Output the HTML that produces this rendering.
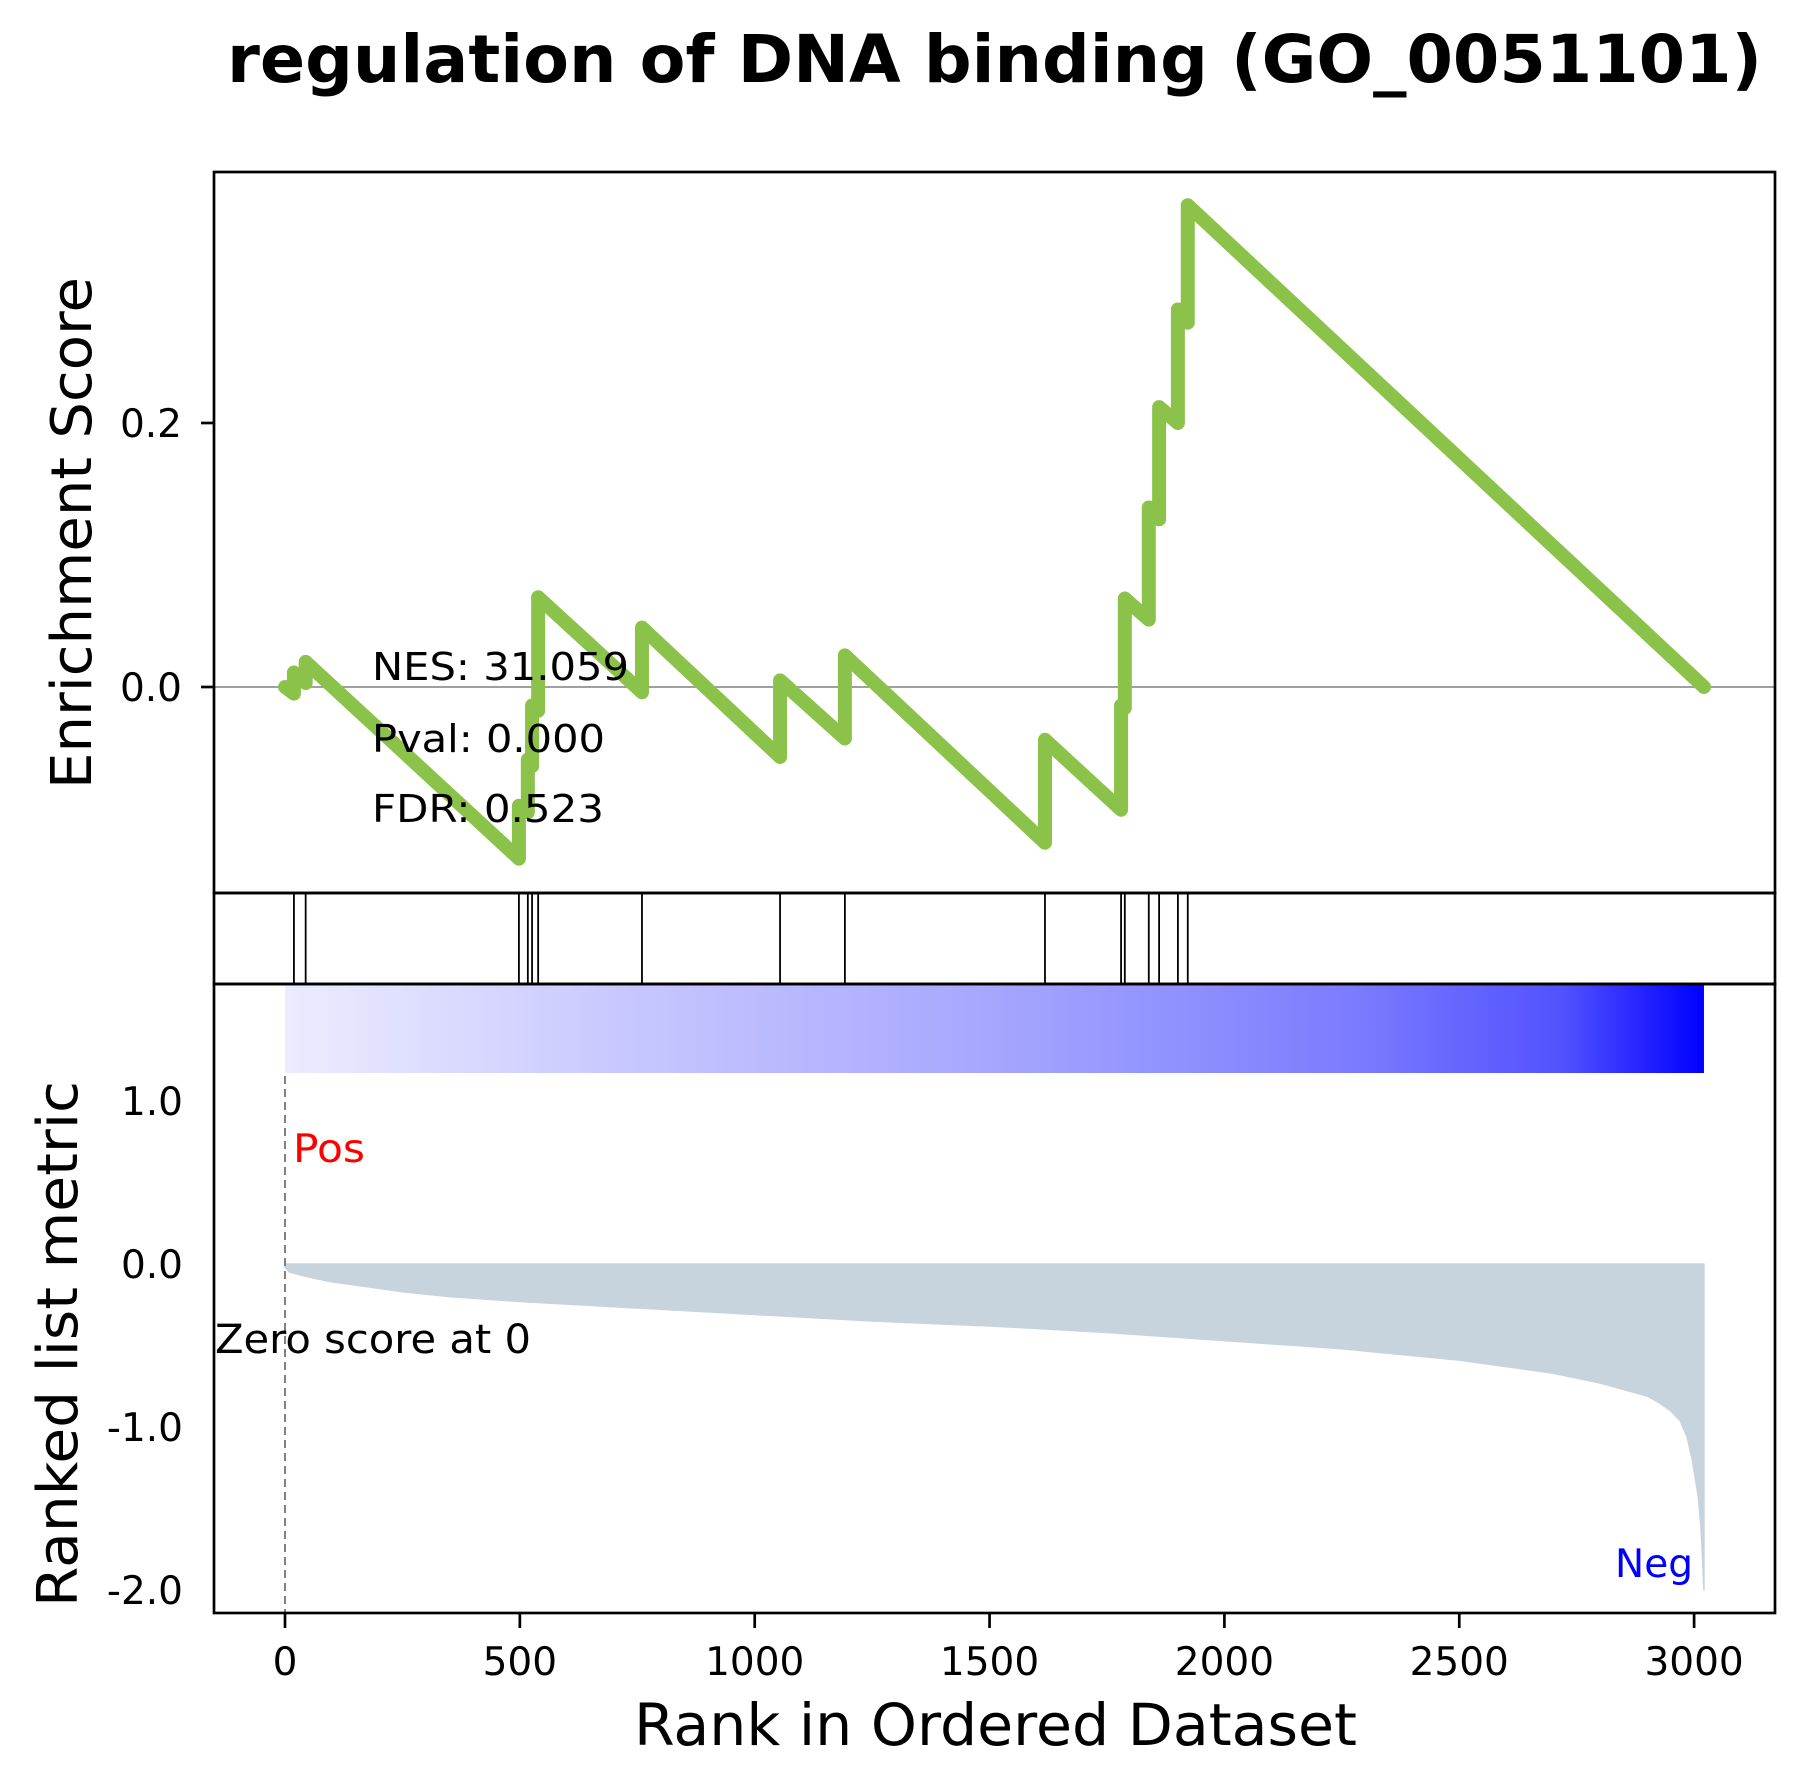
<!DOCTYPE html>
<html><head><meta charset="utf-8"><style>
html,body{margin:0;padding:0;background:#fff;}
svg{display:block;font-family:"DejaVu Sans","Liberation Sans",sans-serif;}
</style></head><body>
<svg id="chart" width="1807" height="1788" viewBox="0 0 1807 1788" xmlns="http://www.w3.org/2000/svg">
<rect x="0" y="0" width="1807" height="1788" fill="#fff"/>
<defs>
<linearGradient id="cbar" x1="0" x2="1" y1="0" y2="0">
<stop offset="0" stop-color="#ececff"/>
<stop offset="0.25" stop-color="#c6c6ff"/>
<stop offset="0.5" stop-color="#a6a6ff"/>
<stop offset="0.75" stop-color="#7c7cff"/>
<stop offset="0.9" stop-color="#5252ff"/>
<stop offset="1" stop-color="#0000ff"/>
</linearGradient>
</defs>
<text x="227" y="82" font-size="66" font-weight="bold" textLength="1535" lengthAdjust="spacingAndGlyphs">regulation of DNA binding (GO_0051101)</text>
<g id="layer"></g>
</svg>
<script>
const hitRanks = [19, 44, 498, 517, 526, 539, 760, 1054, 1192, 1618, 1780, 1788, 1839, 1861, 1901, 1922];
const esLow  = [-0.005, 0.003, -0.130, -0.095, -0.060, -0.018, -0.004, -0.053, -0.039, -0.118, -0.093, -0.016, 0.051, 0.127, 0.200, 0.276];
const esHigh = [0.011, 0.019, -0.090, -0.055, -0.014, 0.068, 0.045, 0.005, 0.024, -0.040, -0.014, 0.067, 0.136, 0.212, 0.286, 0.365];
const esEndRank = 3021;
const metricRanks = [0, 10, 50, 100, 150, 250, 350, 500, 750, 1000, 1250, 1500, 1750, 2000, 2250, 2500, 2700, 2800, 2850, 2900, 2925, 2950, 2970, 2985, 2996, 3009, 3015, 3021];
const metricValues = [-0.02, -0.05, -0.08, -0.11, -0.13, -0.17, -0.20, -0.23, -0.27, -0.31, -0.35, -0.38, -0.42, -0.47, -0.52, -0.59, -0.67, -0.73, -0.77, -0.81, -0.85, -0.90, -0.96, -1.06, -1.20, -1.43, -1.63, -2.0];
const xTicks = [0, 500, 1000, 1500, 2000, 2500, 3000];
const esTicks = [0.0, 0.2];
const esTickLabels = ["0.0", "0.2"];
const metricTicks = [1.0, 0.0, -1.0, -2.0];
const metricTickLabels = ["1.0", "0.0", "-1.0", "-2.0"];

const NS = "http://www.w3.org/2000/svg";
const layer = document.getElementById('layer');
const L = 214, R = 1775, T1 = 172, B1 = 893, B2 = 984, B3 = 1613;
const xS = r => 285 + r * 0.4697;
const yES = v => 687 - v * 1320;
const yM = v => 1264 - v * 163;
function mk(tag, attrs, parent) {
  const e = document.createElementNS(NS, tag);
  for (const k in attrs) e.setAttribute(k, attrs[k]);
  (parent || layer).appendChild(e);
  return e;
}

let e = mk('line', {x1: L, x2: R, y1: yES(0), y2: yES(0), stroke: '#808080', 'stroke-width': 1.5});



let pts = [[xS(0), yES(0)]];
for (let i = 0; i < hitRanks.length; i++) {
  pts.push([xS(hitRanks[i]), yES(esLow[i])]);
  pts.push([xS(hitRanks[i]), yES(esHigh[i])]);
}
pts.push([xS(esEndRank), yES(0)]);
e = mk('polyline', {points: pts.map(p => p.join(',')).join(' '), fill: 'none', stroke: '#8bc34a', 'stroke-width': 14, 'stroke-linejoin': 'round', 'stroke-linecap': 'round'});



hitRanks.forEach(r => {
  const h = mk('line', {x1: xS(r), x2: xS(r), y1: B1, y2: B2, stroke: '#000', 'stroke-width': 1.8});
  
  
});

e = mk('rect', {x: xS(0), y: B2 + 1, width: xS(esEndRank) - xS(0), height: 88, fill: 'url(#cbar)'});



let d = 'M' + xS(metricRanks[0]) + ',' + yM(0);
for (let i = 0; i < metricRanks.length; i++) d += ' L' + xS(metricRanks[i]) + ',' + yM(metricValues[i]);
d += ' L' + xS(metricRanks[metricRanks.length - 1]) + ',' + yM(0) + ' Z';
e = mk('path', {d: d, fill: '#c8d4dd', stroke: '#c8d4dd', 'stroke-width': 1.5, 'stroke-linejoin': 'round'});



e = mk('line', {x1: xS(0), x2: xS(0), y1: 1076, y2: B3, stroke: '#808080', 'stroke-width': 2, 'stroke-dasharray': '8,5'});



[[T1, B1, 'es-axes-frame'], [B1, B2, 'hits-axes-frame'], [B2, B3, 'metric-axes-frame']].forEach(f => {
  const r = mk('rect', {x: L, y: f[0], width: R - L, height: f[1] - f[0], fill: 'none', stroke: '#000', 'stroke-width': 2.7});
  
  
});

esTicks.forEach((v, i) => {
  const t = mk('line', {x1: L - 13, x2: L, y1: yES(v), y2: yES(v), stroke: '#000', 'stroke-width': 2.7});
  
  
  const tx = mk('text', {x: 182, y: yES(v) + 14, 'font-size': 39, 'text-anchor': 'end'});
  tx.textContent = esTickLabels[i];
  
  
});
metricTicks.forEach((v, i) => {
  const tx = mk('text', {x: 183, y: yM(v) + 14, 'font-size': 39, 'text-anchor': 'end'});
  tx.textContent = metricTickLabels[i];
  
  
});
xTicks.forEach(v => {
  const t = mk('line', {x1: xS(v), x2: xS(v), y1: B3, y2: B3 + 15, stroke: '#000', 'stroke-width': 2.7});
  
  
  const tx = mk('text', {x: xS(v), y: 1675, 'font-size': 39, 'text-anchor': 'middle'});
  tx.textContent = String(v);
  
  
});
</script>
<script>
(function(){
const svg = document.getElementById('chart');
const NS = "http://www.w3.org/2000/svg";
function txt(s, attrs, name) {
  const e = document.createElementNS(NS, 'text');
  for (const k in attrs) e.setAttribute(k, attrs[k]);
  e.textContent = s;
  
  
  svg.appendChild(e);
}
txt('NES: 31.059', {x: 372, y: 680, 'font-size': 38, textLength: 257, lengthAdjust: 'spacingAndGlyphs'}, 'nes-annotation');
txt('Pval: 0.000', {x: 372, y: 752, 'font-size': 38, textLength: 233, lengthAdjust: 'spacingAndGlyphs'}, 'pval-annotation');
txt('FDR: 0.523', {x: 372, y: 822, 'font-size': 38, textLength: 232, lengthAdjust: 'spacingAndGlyphs'}, 'fdr-annotation');
txt('Pos', {x: 293, y: 1162, 'font-size': 39, fill: '#ff0000', textLength: 72, lengthAdjust: 'spacingAndGlyphs'}, 'pos-label');
txt('Neg', {x: 1615, y: 1577, 'font-size': 39, fill: '#0000ff', textLength: 78, lengthAdjust: 'spacingAndGlyphs'}, 'neg-label');
txt('Zero score at 0', {x: 215, y: 1353, 'font-size': 40, textLength: 316, lengthAdjust: 'spacingAndGlyphs'}, 'zero-score-label');
txt('Rank in Ordered Dataset', {x: 634, y: 1745, 'font-size': 58, textLength: 723, lengthAdjust: 'spacingAndGlyphs'}, 'x-axis-title');
txt('Enrichment Score', {x: 0, y: 0, 'font-size': 56, 'text-anchor': 'middle', transform: 'translate(91,533) rotate(-90)', textLength: 512, lengthAdjust: 'spacingAndGlyphs'}, 'es-y-axis-title');
txt('Ranked list metric', {x: 0, y: 0, 'font-size': 56, 'text-anchor': 'middle', transform: 'translate(77,1344) rotate(-90)', textLength: 526, lengthAdjust: 'spacingAndGlyphs'}, 'metric-y-axis-title');
})();
</script>
</body></html>
